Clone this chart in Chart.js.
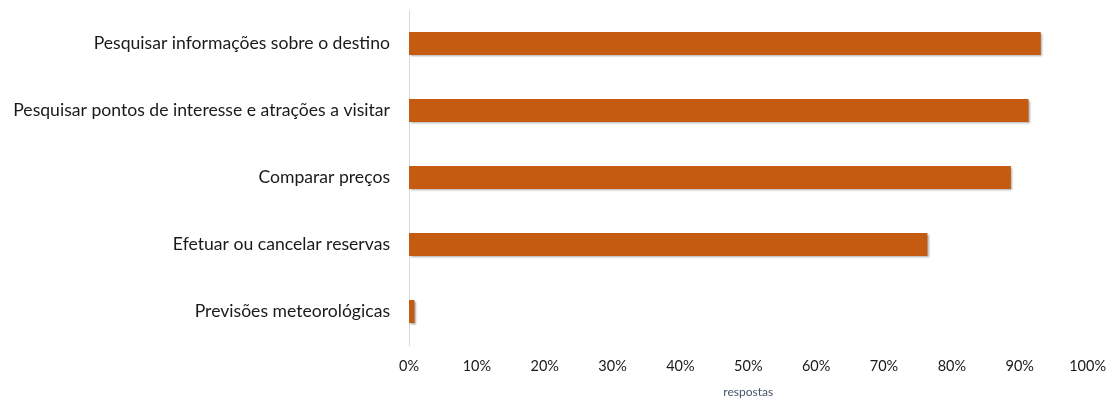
<html>
    <head>
        <script src="https://cdn.jsdelivr.net/npm/chart.js@4.4.0/dist/chart.umd.min.js"></script>
        <style>
            body {
                margin: 0px;
                background: #ffffff;
            }

            #wrap {
                width: 1119px;
                height: 401px;
            }
        </style>
    </head>

    <body>
        <div id="wrap">
            <canvas id="chart"></canvas>
        </div>
        <script>
            const categories = [
                'Pesquisar informações sobre o destino',
                'Pesquisar pontos de interesse e atrações a visitar',
                'Comparar preços',
                'Efetuar ou cancelar reservas',
                'Previsões meteorológicas',
            ]
            const respostas = [0.931, 0.913, 0.887, 0.764, 0.008]
            const xTicks = [0, 0.1, 0.2, 0.3, 0.4, 0.5, 0.6, 0.7, 0.8, 0.9, 1]

            // soft drop shadow under the bars
            const barShadow = {
                id: 'barShadow',
                beforeDatasetsDraw(chart) {
                    const ctx = chart.ctx
                    ctx.save()
                    ctx.shadowColor = 'rgba(0, 0, 0, 0.35)'
                    ctx.shadowBlur = 2
                    ctx.shadowOffsetX = 1.5
                    ctx.shadowOffsetY = 1.5
                },
                afterDatasetsDraw(chart) {
                    chart.ctx.restore()
                },
            }

            const font = "Lato, 'Open Sans', sans-serif"

            new Chart(document.getElementById('chart'), {
                type: 'bar',
                data: {
                    labels: categories,
                    datasets: [
                        {
                            label: 'respostas',
                            data: respostas,
                            backgroundColor: '#C55A11',
                            borderWidth: 0,
                            categoryPercentage: 1,
                            barPercentage: 0.34,
                        },
                    ],
                },
                options: {
                    indexAxis: 'y',
                    responsive: true,
                    maintainAspectRatio: false,
                    animation: false,
                    layout: {
                        padding: { left: 0, right: 28, top: 10, bottom: 0 },
                    },
                    plugins: {
                        legend: { display: false },
                        tooltip: { enabled: false },
                    },
                    scales: {
                        x: {
                            type: 'linear',
                            min: 0,
                            max: 1,
                            afterBuildTicks: (scale) => {
                                scale.ticks = xTicks.map((v) => ({ value: v }))
                            },
                            afterFit: (scale) => {
                                scale.height = 56
                            },
                            grid: { display: false, drawTicks: false },
                            border: { display: false },
                            ticks: {
                                padding: 13,
                                color: '#1a1a1a',
                                font: { family: font, size: 14.5 },
                                maxRotation: 0,
                                callback: (v) => Math.round(v * 100) + '%',
                            },
                            title: {
                                display: true,
                                text: 'respostas',
                                color: '#44546A',
                                font: { family: font, size: 12 },
                                padding: { top: 0, bottom: 2 },
                            },
                        },
                        y: {
                            afterFit: (scale) => {
                                scale.width = 409
                                scale.paddingTop = 0
                                scale.paddingBottom = 0
                            },
                            grid: { display: false, drawTicks: false },
                            border: { display: true, color: '#D9D9D9', width: 1 },
                            ticks: {
                                padding: 19,
                                color: '#1a1a1a',
                                font: { family: font, size: 17.6 },
                            },
                        },
                    },
                },
                plugins: [barShadow],
            })
        </script>
    </body>
</html>
